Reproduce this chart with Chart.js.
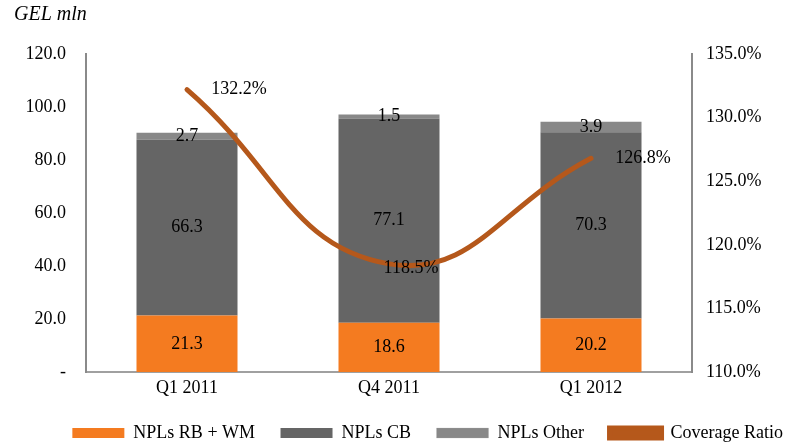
<!DOCTYPE html>
<html>
<head>
<meta charset="utf-8">
<script src="https://cdn.jsdelivr.net/npm/chart.js@4.4.1/dist/chart.umd.min.js"></script>
<style>
  html, body { margin: 0; padding: 0; background: #fff; }
  #wrap { width: 786px; height: 444px; }
</style>
</head>
<body>
<div id="wrap"><canvas id="myChart" width="786" height="444"></canvas></div>
<script>
const categories = ["Q1 2011", "Q4 2011", "Q1 2012"];
const nplsRbWm = [21.3, 18.6, 20.2];
const nplsCb = [66.3, 77.1, 70.3];
const nplsOther = [2.7, 1.5, 3.9];
const coverageRatio = [132.2, 118.5, 126.8];

const serif = "'Liberation Serif', 'Times New Roman', serif";
const axisGrey = "#8a8a8a";
const fontSize = 18;

// draws value labels on bars and the line
const valueLabels = {
  id: "valueLabels",
  afterDatasetsDraw(chart) {
    const ctx = chart.ctx;
    ctx.save();
    ctx.font = fontSize + "px " + serif;
    ctx.fillStyle = "#000";
    ctx.textBaseline = "middle";
    ctx.textAlign = "center";
    chart.data.datasets.forEach((ds, i) => {
      const meta = chart.getDatasetMeta(i);
      meta.data.forEach((el, j) => {
        const v = ds.data[j];
        if (ds.type === "line") {
          const dx = j === 1 ? 22 : 52;
          const dy = j === 1 ? 4 : 0;
          ctx.fillText(v.toFixed(1) + "%", el.x + dx, el.y + dy);
        } else {
          ctx.fillText(v.toFixed(1), el.x, (el.y + el.base) / 2);
        }
      });
    });
    // unit caption
    ctx.font = "italic 20px " + serif;
    ctx.textAlign = "left";
    ctx.fillText("GEL mln", 14, 15);
    ctx.restore();
  },
};

new Chart("myChart", {
  type: "bar",
  data: {
    labels: categories,
    datasets: [
      {
        label: "NPLs RB + WM",
        data: nplsRbWm,
        backgroundColor: "#F47B20",
        yAxisID: "y",
        order: 1,
      },
      {
        label: "NPLs CB",
        data: nplsCb,
        backgroundColor: "#656565",
        yAxisID: "y",
        order: 1,
      },
      {
        label: "NPLs Other",
        data: nplsOther,
        backgroundColor: "#888888",
        borderColor: "#a8a8a8",
        borderWidth: { bottom: 1 },
        yAxisID: "y",
        order: 1,
      },
      {
        type: "line",
        label: "Coverage Ratio",
        data: coverageRatio,
        borderColor: "#B5581B",
        backgroundColor: "#B5581B",
        borderWidth: 5,
        borderCapStyle: "round",
        pointRadius: 0,
        tension: 0.45,
        fill: false,
        yAxisID: "y1",
        order: 0,
      },
    ],
  },
  options: {
    responsive: false,
    animation: false,
    datasets: { bar: { categoryPercentage: 1, barPercentage: 0.5 } },
    layout: { padding: { top: 54, left: 0, right: 0, bottom: 0 } },
    plugins: {
      tooltip: { enabled: false },
      legend: {
        position: "bottom",
        align: "end",
        maxHeight: 23,
        labels: {
          font: { family: serif, size: fontSize },
          color: "#000",
          boxWidth: 52,
          boxHeight: 10,
          padding: 3,
          generateLabels(chart) {
            const items = Chart.defaults.plugins.legend.labels
              .generateLabels(chart)
              .sort((a, b) => a.datasetIndex - b.datasetIndex);
            // extra gap after each item, like the original legend
            items.forEach((it, k) => {
              if (k < items.length - 1) it.text = it.text + "\u00a0\u00a0\u00a0\u00a0\u00a0";
            });
            return items;
          },
        },
      },
    },
    scales: {
      x: {
        stacked: true,
        grid: { display: false, drawTicks: false },
        border: { display: true, color: "#a0a0a0", width: 2 },
        ticks: { font: { family: serif, size: fontSize }, color: "#000", padding: 5 },
        afterFit(scale) { scale.height = 49; },
      },
      y: {
        stacked: true,
        position: "left",
        min: 0,
        max: 120,
        grid: { display: false, drawTicks: false },
        border: { display: true, color: axisGrey, width: 2 },
        ticks: {
          stepSize: 20,
          font: { family: serif, size: fontSize },
          color: "#000",
          padding: 20,
          callback: (v) => (v === 0 ? "-" : v.toFixed(1)),
        },
        afterFit(scale) { scale.width = 86; },
      },
      y1: {
        position: "right",
        min: 110,
        max: 135,
        grid: { display: false, drawTicks: false },
        border: { display: true, color: axisGrey, width: 2 },
        ticks: {
          stepSize: 5,
          font: { family: serif, size: fontSize },
          color: "#000",
          padding: 14,
          callback: (v) => v.toFixed(1) + "%",
        },
        afterFit(scale) { scale.width = 94; },
      },
    },
  },
  plugins: [valueLabels],
});
</script>
</body>
</html>
